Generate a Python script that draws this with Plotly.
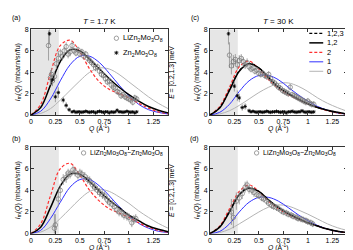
import plotly.graph_objects as go
from plotly.subplots import make_subplots

# ---------------- data ----------------
Q_model = [0.0, 0.1, 0.2, 0.3, 0.4, 0.5, 0.6, 0.7, 0.8, 0.9, 1.0, 1.1, 1.2, 1.3, 1.4]

# panel (a) T = 1.7 K
a_m12 = [0, 0.7, 2.8, 5.0, 6.1, 6.0, 5.2, 4.3, 3.4, 2.6, 1.9, 1.3, 0.8, 0.45, 0.2]
a_m2 = [0, 1.0, 3.9, 6.5, 7.0, 5.9, 4.3, 3.1, 2.4, 2.0, 1.6, 1.1, 0.65, 0.3, 0.12]
a_m1 = [0, 0.35, 1.5, 3.2, 4.7, 5.5, 5.5, 4.9, 3.9, 2.8, 1.8, 1.0, 0.5, 0.25, 0.1]
a_m0 = [0, 0.15, 0.6, 1.4, 2.3, 3.2, 4.0, 4.4, 4.3, 3.8, 3.1, 2.4, 1.7, 1.1, 0.6]

# panel (b) difference, T = 1.7 K
b_m12 = [0, 0.6, 2.4, 4.4, 5.5, 5.5, 4.8, 3.9, 3.1, 2.4, 1.7, 1.2, 0.7, 0.4, 0.18]
b_m2 = [0, 0.9, 3.5, 6.0, 6.5, 5.4, 4.0, 3.0, 2.3, 1.9, 1.5, 1.0, 0.6, 0.3, 0.12]
b_m1 = [0, 0.3, 1.4, 2.9, 4.3, 5.0, 5.0, 4.4, 3.5, 2.5, 1.65, 0.95, 0.5, 0.22, 0.1]
b_m0 = [0, 0.15, 0.6, 1.4, 2.3, 3.2, 3.9, 4.1, 3.9, 3.4, 2.8, 2.1, 1.5, 0.95, 0.5]

# panel (c) T = 30 K
c_m123 = [0, 0.68, 2.35, 4.15, 4.85, 4.4, 3.5, 2.6, 2.0, 1.5, 1.05, 0.7, 0.45, 0.25, 0.1]
c_m12 = [0, 0.65, 2.3, 4.1, 4.8, 4.4, 3.5, 2.6, 2.0, 1.5, 1.05, 0.7, 0.45, 0.25, 0.1]
c_m2 = [0, 0.8, 2.6, 4.5, 5.05, 4.3, 3.3, 2.5, 1.9, 1.45, 1.05, 0.7, 0.4, 0.2, 0.08]
c_m1 = [0, 0.25, 1.0, 2.2, 3.2, 3.7, 3.7, 3.3, 2.6, 1.9, 1.3, 0.8, 0.45, 0.2, 0.08]
c_m0 = [0, 0.1, 0.4, 0.9, 1.5, 2.1, 2.6, 2.95, 3.0, 2.7, 2.2, 1.6, 1.1, 0.7, 0.35]

# panel (d) difference, T = 30 K
d_m123 = [0, 0.62, 2.05, 3.65, 4.25, 3.9, 3.1, 2.4, 1.85, 1.4, 1.0, 0.7, 0.42, 0.22, 0.1]
d_m12 = [0, 0.6, 2.0, 3.6, 4.2, 3.9, 3.1, 2.4, 1.85, 1.4, 1.0, 0.7, 0.42, 0.22, 0.1]
d_m2 = [0, 0.7, 2.3, 3.9, 4.5, 3.9, 3.0, 2.3, 1.75, 1.35, 1.0, 0.7, 0.4, 0.2, 0.08]
d_m1 = [0, 0.2, 0.9, 2.0, 2.9, 3.35, 3.35, 3.0, 2.4, 1.75, 1.2, 0.75, 0.42, 0.2, 0.08]
d_m0 = [0, 0.1, 0.4, 0.9, 1.45, 2.0, 2.45, 2.65, 2.55, 2.2, 1.8, 1.35, 0.9, 0.55, 0.3]

# measured data: LiZn2Mo3O8 (a), Zn2Mo3O8 (a)
a_li_Q = [0.18, 0.20, 0.21, 0.22, 0.24, 0.26, 0.28, 0.30, 0.32, 0.34, 0.36, 0.38, 0.40, 0.42, 0.44,
          0.46, 0.48, 0.50, 0.52, 0.54, 0.56, 0.58, 0.60, 0.62, 0.64, 0.66, 0.68, 0.70, 0.72, 0.74,
          0.76, 0.78, 0.80, 0.82, 0.84, 0.86, 0.88, 0.90, 0.92, 0.94, 0.96, 0.98, 1.00, 1.02, 1.04,
          1.06, 1.08]
a_li_I = [6.5, 3.5, 3.8, 3.2, 3.6, 4.8, 5.3, 5.8, 5.5, 6.0, 6.4, 5.7, 5.9, 6.5, 6.0,
          5.8, 6.1, 5.7, 5.9, 5.5, 5.7, 5.3, 5.1, 4.9, 4.7, 4.4, 4.5, 4.1, 3.8, 3.7,
          3.4, 3.1, 3.2, 2.8, 2.6, 2.5, 2.2, 2.1, 1.8, 1.9, 1.7, 1.6, 1.5, 1.4, 1.2,
          1.6, 1.5]
a_li_E = [1.4, 0.7, 0.6, 0.5, 0.5, 0.5, 0.5, 0.4, 0.4, 0.4, 0.4, 0.4, 0.4, 0.4, 0.3,
          0.3, 0.3, 0.3, 0.3, 0.3, 0.3, 0.3, 0.3, 0.3, 0.3, 0.3, 0.3, 0.3, 0.3, 0.3,
          0.3, 0.3, 0.3, 0.3, 0.3, 0.3, 0.3, 0.3, 0.3, 0.3, 0.3, 0.3, 0.3, 0.3, 0.3,
          0.3, 0.3]
a_zn_Q = [0.19, 0.22, 0.25, 0.28, 0.33, 0.36, 0.39, 0.42, 0.44, 0.46, 0.48, 0.50, 0.52, 0.54,
          0.56, 0.58, 0.60, 0.62, 0.64, 0.66, 0.68, 0.70, 0.72, 0.74, 0.76, 0.78, 0.80, 0.82,
          0.84, 0.86, 0.88, 0.90, 0.92, 0.94, 0.96, 0.98, 1.00, 1.02, 1.04, 1.06, 1.08]
a_zn_I = [7.6, 3.3, 1.7, 2.1, 1.4, 0.9, 0.5, 0.3, 0.35, 0.25, 0.3, 0.3, 0.25, 0.3,
          0.35, 0.3, 0.25, 0.3, 0.3, 0.2, 0.3, 0.35, 0.3, 0.25, 0.3, 0.3, 0.2, 0.3,
          0.25, 0.3, 0.45, 0.3, 0.3, 0.25, 0.3, 0.35, 0.3, 0.25, 0.3, 0.2, 0.3]
a_zn_E = [1.0, 0.5, 0.5, 0.5, 0.3, 0.3, 0.2] + [0.12] * 34

# panel (b) difference data
b_Q = [0.24, 0.25, 0.28, 0.30, 0.33, 0.36, 0.38, 0.40, 0.43, 0.45, 0.48, 0.50, 0.52, 0.55,
       0.58, 0.60, 0.63, 0.65, 0.68, 0.70, 0.73, 0.75, 0.78, 0.80, 0.83, 0.85, 0.88, 0.90,
       0.93, 0.95, 0.98, 1.00, 1.03, 1.05, 1.07]
b_I = [0.5, 0.8, 3.2, 4.0, 5.0, 5.2, 5.6, 5.5, 5.9, 5.7, 5.4, 5.6, 5.5, 5.3,
       5.0, 4.9, 4.5, 4.3, 4.0, 3.8, 3.6, 3.5, 3.1, 2.9, 2.7, 2.5, 2.2, 2.0,
       1.9, 1.7, 1.6, 1.5, 1.0, 1.3, 1.4]
b_E = [1.3, 1.0, 0.7, 0.6, 0.5, 0.5, 0.4, 0.4, 0.4, 0.4, 0.4, 0.4, 0.4, 0.4,
       0.4, 0.4, 0.4, 0.4, 0.4, 0.4, 0.4, 0.4, 0.4, 0.4, 0.4, 0.4, 0.4, 0.4,
       0.4, 0.4, 0.4, 0.4, 0.4, 0.4, 0.4]

# panel (c) data
c_li_Q = [0.20, 0.22, 0.24, 0.26, 0.28, 0.30, 0.32, 0.34, 0.36, 0.38, 0.40, 0.42, 0.44, 0.46,
          0.48, 0.50, 0.52, 0.54, 0.56, 0.58, 0.60, 0.62, 0.64, 0.66, 0.68, 0.70, 0.72, 0.74,
          0.76, 0.78, 0.80, 0.82, 0.84, 0.86, 0.88, 0.90, 0.92, 0.94, 0.96, 0.98, 1.00, 1.02,
          1.04, 1.06]
c_li_I = [5.6, 4.6, 5.0, 5.2, 4.7, 5.1, 5.3, 5.0, 4.7, 4.9, 4.5, 4.3, 4.4, 4.1,
          4.2, 3.9, 3.8, 3.9, 3.7, 3.6, 3.8, 3.4, 3.1, 3.0, 2.8, 2.6, 2.5, 2.3,
          2.2, 2.1, 2.0, 2.6, 1.9, 1.8, 1.7, 1.6, 1.5, 1.4, 1.3, 1.2, 1.3, 1.1,
          1.0, 1.0]
c_li_E = [1.2, 0.8, 0.6, 0.5, 0.5, 0.5, 0.4, 0.4, 0.4, 0.4, 0.3, 0.3, 0.3, 0.3,
          0.3, 0.3, 0.3, 0.3, 0.3, 0.3, 0.3, 0.3, 0.3, 0.3, 0.3, 0.3, 0.3, 0.3,
          0.3, 0.3, 0.3, 0.3, 0.3, 0.3, 0.3, 0.3, 0.3, 0.3, 0.3, 0.3, 0.3, 0.3,
          0.3, 0.3]
c_zn_Q = [0.19, 0.25, 0.28, 0.30, 0.33, 0.36, 0.40, 0.42, 0.44, 0.46, 0.48, 0.50, 0.52, 0.54,
          0.56, 0.58, 0.60, 0.62, 0.64, 0.66, 0.68, 0.70, 0.72, 0.74, 0.76, 0.78, 0.80, 0.82,
          0.84, 0.86, 0.88, 0.90, 0.92, 0.94, 0.96, 0.98, 1.00, 1.02, 1.04, 1.06]
c_zn_I = [7.6, 2.7, 1.8, 1.6, 0.7, 0.8, 0.4, 0.3, 0.35, 0.3, 0.25, 0.3, 0.3, 0.25,
          0.3, 0.35, 0.3, 0.25, 0.3, 0.3, 0.35, 0.3, 0.25, 0.3, 0.3, 0.2, 0.3, 0.3,
          0.35, 0.3, 0.25, 0.3, 0.3, 0.4, 0.3, 0.25, 0.3, 0.3, 0.25, 0.3]
c_zn_E = [1.0, 0.5, 0.5, 0.4, 0.3, 0.3, 0.2] + [0.12] * 33

# panel (d) difference data
d_Q = [0.22, 0.24, 0.27, 0.30, 0.33, 0.36, 0.38, 0.40, 0.43, 0.45, 0.48, 0.50, 0.53, 0.55,
       0.58, 0.60, 0.63, 0.65, 0.68, 0.70, 0.73, 0.75, 0.78, 0.80, 0.83, 0.85, 0.88, 0.90,
       0.93, 0.95, 0.98, 1.00, 1.03, 1.05]
d_I = [2.0, 1.5, 3.0, 3.3, 3.7, 4.3, 4.5, 4.1, 4.0, 3.8, 3.6, 3.5, 3.3, 3.2,
       3.0, 2.8, 2.6, 2.5, 2.4, 2.3, 2.1, 2.0, 1.9, 1.8, 1.7, 1.6, 1.5, 1.4,
       1.35, 1.3, 1.2, 1.1, 1.0, 0.9]
d_E = [1.2, 1.0, 0.8, 0.6, 0.5, 0.5, 0.4, 0.4, 0.4, 0.4, 0.3, 0.3, 0.3, 0.3,
       0.3, 0.3, 0.3, 0.3, 0.3, 0.3, 0.3, 0.3, 0.3, 0.3, 0.3, 0.3, 0.3, 0.3,
       0.3, 0.3, 0.3, 0.3, 0.3, 0.3]

Q_shade = 0.285
x_ticks = [0, 0.25, 0.5, 0.75, 1, 1.25]
x_tick_text = ["0", "0.25", "0.5", "0.75", "1", "1.25"]
y_ticks = [0, 2, 4, 6, 8]
legend_models = ["1,2,3", "1,2", "2", "1", "0"]
titles = ["<i>T</i> = 1.7 K", "<i>T</i> = 30 K"]

# ---------------- style ----------------
FONT = "Liberation Sans, Arial, sans-serif"
BLACK = "#000000"
RED = "#ff3030"
BLUE = "#3030ff"
GRAY = "#b4b4b4"
ERR = "#8f8f8f"

W, H = 353, 250
px = lambda x: x / W
py = lambda y: 1 - y / H

fig = make_subplots(rows=2, cols=2)

# panel geometry (pixels): left, right, top, bottom
panels = {
    (1, 1): (21, 159, 18, 106),
    (1, 2): (201, 339, 18, 106),
    (2, 1): (21, 159, 139, 228),
    (2, 2): (201, 339, 139, 228),
}


def add_models(row, col, m123, m12, m2, m1, m0):
    fig.add_trace(go.Scatter(x=Q_model, y=m0, mode="lines", line=dict(color=GRAY, width=1, shape="spline"),
                             showlegend=False), row=row, col=col)
    fig.add_trace(go.Scatter(x=Q_model, y=m1, mode="lines", line=dict(color=BLUE, width=1, shape="spline"),
                             showlegend=False), row=row, col=col)
    fig.add_trace(go.Scatter(x=Q_model, y=m2, mode="lines",
                             line=dict(color=RED, width=1.2, dash="3px,2px", shape="spline"),
                             showlegend=False), row=row, col=col)
    fig.add_trace(go.Scatter(x=Q_model, y=m12, mode="lines", line=dict(color=BLACK, width=1.5, shape="spline"),
                             showlegend=False), row=row, col=col)
    if m123 is not None:
        fig.add_trace(go.Scatter(x=Q_model, y=m123, mode="lines",
                                 line=dict(color=BLACK, width=1.1, dash="3px,2px", shape="spline"),
                                 showlegend=False), row=row, col=col)


def add_open(row, col, Q, I, E):
    fig.add_trace(go.Scatter(x=Q, y=I, mode="markers",
                             error_y=dict(type="data", array=E, color=ERR, thickness=0.8, width=0),
                             marker=dict(symbol="circle-open", size=4.5, color="#777777", line=dict(width=0.7)),
                             showlegend=False), row=row, col=col)


def add_star(row, col, Q, I, E):
    fig.add_trace(go.Scatter(x=Q, y=I, mode="markers",
                             error_y=dict(type="data", array=E, color=ERR, thickness=0.8, width=0),
                             marker=dict(symbol="asterisk-open", size=3, color=BLACK,
                                         line=dict(width=0.8, color=BLACK)),
                             showlegend=False), row=row, col=col)


add_models(1, 1, None, a_m12, a_m2, a_m1, a_m0)
add_open(1, 1, a_li_Q, a_li_I, a_li_E)
add_star(1, 1, a_zn_Q, a_zn_I, a_zn_E)

add_models(2, 1, None, b_m12, b_m2, b_m1, b_m0)
add_open(2, 1, b_Q, b_I, b_E)

add_models(1, 2, c_m123, c_m12, c_m2, c_m1, c_m0)
add_open(1, 2, c_li_Q, c_li_I, c_li_E)
add_star(1, 2, c_zn_Q, c_zn_I, c_zn_E)

add_models(2, 2, d_m123, d_m12, d_m2, d_m1, d_m0)
add_open(2, 2, d_Q, d_I, d_E)


def note(text, x, y, size=7, angle=0, xanchor="center"):
    fig.add_annotation(text=text, xref="paper", yref="paper", x=px(x), y=py(y), textangle=angle,
                       xanchor=xanchor, yanchor="middle", showarrow=False, borderpad=0,
                       font=dict(family=FONT, size=size, color="#000"))


# axes
axis_font = dict(family=FONT, size=7, color="#000")
names = {(1, 1): ("xaxis", "yaxis"), (1, 2): ("xaxis2", "yaxis2"),
         (2, 1): ("xaxis3", "yaxis3"), (2, 2): ("xaxis4", "yaxis4")}
for (r, c), (l, rr, t, b) in panels.items():
    xa, ya = names[(r, c)]
    fig.layout[xa].update(domain=[px(l), px(rr)], range=[0, 1.4], tickvals=x_ticks, ticktext=x_tick_text,
                          ticks="inside", ticklen=3, tickwidth=0.7, tickcolor="#333", showline=True,
                          linecolor="#333", linewidth=0.8, mirror="ticks", showgrid=False, zeroline=False,
                          tickfont=axis_font, fixedrange=True)
    fig.layout[ya].update(domain=[py(b), py(t)], range=[0, 8], tickvals=y_ticks,
                          ticks="inside", ticklen=3, tickwidth=0.7, tickcolor="#333", showline=True,
                          linecolor="#333", linewidth=0.8, mirror="ticks", showgrid=False, zeroline=False,
                          tickfont=axis_font, fixedrange=True)
    xref = xa.replace("axis", "")
    yref = ya.replace("axis", "")
    # shaded low-Q region
    fig.add_shape(type="rect", xref=xref, yref=yref + " domain", x0=0, x1=Q_shade, y0=0, y1=1,
                  fillcolor="#e6e6e6", line=dict(width=0), layer="below")
    # axis labels
    note("<i>I</i><sub>m</sub>(<i>Q</i>) (mbarn/sr/fu)", l - 13, (t + b) / 2, angle=-90)
    note("<i>E</i> = [0.2,1.3] meV", rr + 4.5, (t + b) / 2, size=6.8, angle=-90)
    note("<i>Q</i> (Å<sup>-1</sup>)", (l + rr) / 2, b + 14, size=6.8)

# panel labels and titles
for lab, (x, y) in {"(a)": (7, 6), "(c)": (186, 6), "(b)": (7, 131), "(d)": (186, 131)}.items():
    note(lab, x, y)
note(titles[0], 90, 10, size=8)
note(titles[1], 270, 10, size=8)

# manual legends
LI = "LiZn<sub>2</sub>Mo<sub>3</sub>O<sub>8</sub>"
ZN = "Zn<sub>2</sub>Mo<sub>3</sub>O<sub>8</sub>"


def open_circle(x, y):
    fig.add_shape(type="circle", xref="paper", yref="paper", xsizemode="pixel", ysizemode="pixel",
                  xanchor=px(x), yanchor=py(y), x0=-2.2, x1=2.2, y0=-2.2, y1=2.2,
                  line=dict(color="#777777", width=0.7))


def star(x, y):
    for dx0, dy0 in [(-2, 0), (0, -2), (-1.5, -1.5), (-1.5, 1.5)]:
        fig.add_shape(type="line", xref="paper", yref="paper", xsizemode="pixel", ysizemode="pixel",
                      xanchor=px(x), yanchor=py(y), x0=dx0, x1=-dx0, y0=dy0, y1=-dy0,
                      line=dict(color=BLACK, width=0.8))


open_circle(107, 27)
note(LI, 113, 27, size=7.5, xanchor="left")
star(107, 42)
note(ZN, 113, 42, size=7.5, xanchor="left")

open_circle(74, 145)
note(LI + "−" + ZN, 79, 145, size=7, xanchor="left")
open_circle(248, 145)
note(LI + "−" + ZN, 253, 145, size=7, xanchor="left")

leg_styles = [(BLACK, 1.1, "3px,2px"), (BLACK, 1.5, "solid"), (RED, 1.2, "3px,2px"),
              (BLUE, 1, "solid"), (GRAY, 1, "solid")]
for i, (name, (col, w, dash)) in enumerate(zip(legend_models, leg_styles)):
    yy = 22 + 9.75 * i
    fig.add_shape(type="line", xref="paper", yref="paper", x0=px(301), x1=px(315), y0=py(yy), y1=py(yy),
                  line=dict(color=col, width=w, dash=dash))
    note(name, 318, yy, size=7.5, xanchor="left")

fig.update_layout(width=W, height=H, margin=dict(l=0, r=0, t=0, b=0), plot_bgcolor="white",
                  paper_bgcolor="white", showlegend=False, font=dict(family=FONT, size=7))

fig.write_html("out.html")
